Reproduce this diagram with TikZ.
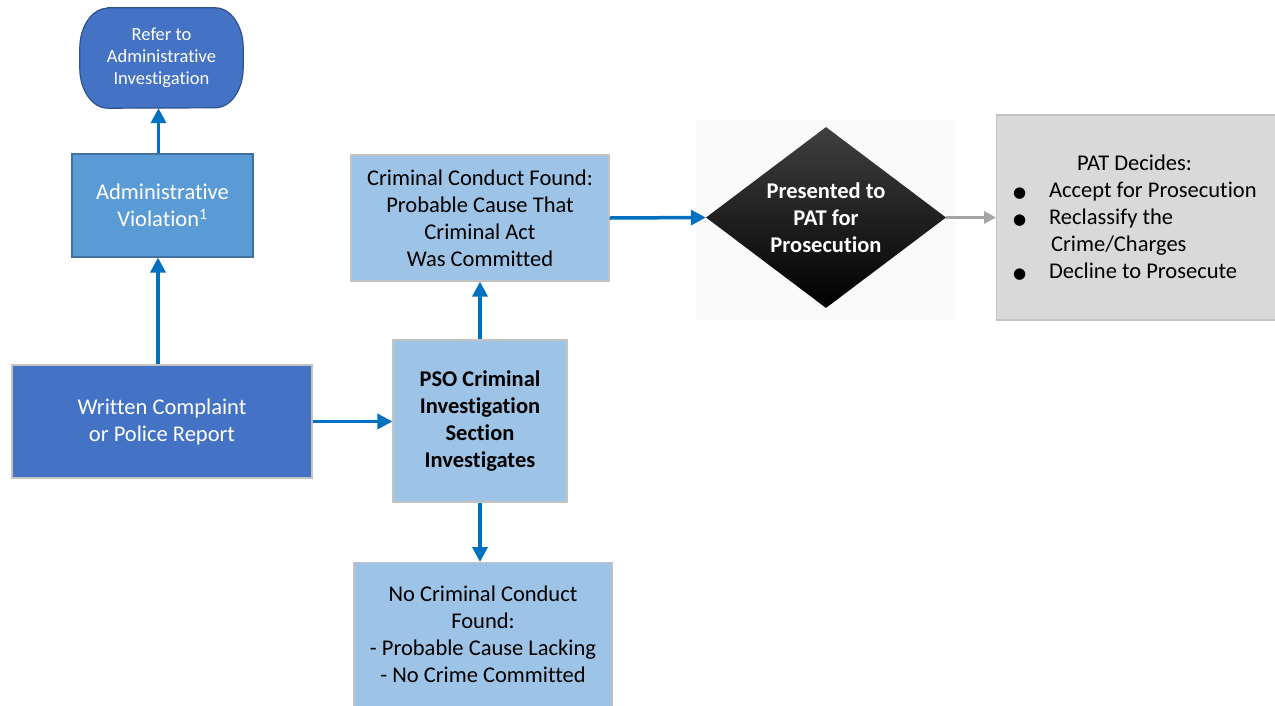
\documentclass[tikz,border=0pt]{standalone}
\usepackage{fontspec}
\setmainfont[Ligatures={NoCommon}]{Carlito}
\newfontfamily\symfont{DejaVu Sans}
\usetikzlibrary{shapes.geometric,arrows.meta,backgrounds}

\definecolor{darkblue}{HTML}{4472C4}
\definecolor{darkblueline}{HTML}{2F528F}
\definecolor{midblue}{HTML}{5B9BD5}
\definecolor{midblueline}{HTML}{41719C}
\definecolor{lightblue}{HTML}{9DC3E6}
\definecolor{boxline}{HTML}{C3C3C3}
\definecolor{panelgray}{HTML}{D9D9D9}
\definecolor{flowblue}{HTML}{0070C0}
\definecolor{flowgray}{HTML}{A5A5A5}

\tikzset{
  box/.style={rectangle, draw=boxline, line width=1.2pt, inner sep=2pt,
    align=center, font=\fontsize{22.5}{27}\selectfont},
  darkbox/.style={box, fill=darkblue, text=white},
  midbox/.style={box, fill=midblue, draw=midblueline, text=white},
  lightbox/.style={box, fill=lightblue, text=black},
  graybox/.style={box, fill=panelgray, draw=boxline},
  flow/.style={draw=flowblue, line width=3.5pt,
    -{Triangle[length=15pt,width=15pt]}},
  grayflow/.style={draw=flowgray, line width=3.5pt,
    -{Triangle[length=12pt,width=12pt]}},
}
\newcommand{\blt}{\makebox[37pt][l]{\hspace*{1pt}{\symfont\fontsize{15}{27}\selectfont ●}}}

\begin{document}
\begin{tikzpicture}[x=1pt,y=-1pt]
\useasboundingbox (0,0) rectangle (1275,705);

% soft backdrop behind the decision diamond
\fill[black!2] (696,120) rectangle (956,320);

% left column
\node[rectangle, inner sep=2pt, align=center, text=white,
  minimum width=163pt, minimum height=100pt,
  font=\fontsize{18.5}{22}\selectfont] (refer) at (161.5,58)
  {Refer to\\Administrative\\Investigation};
\begin{scope}[on background layer]
  % terminator outline with elliptical corners
  \filldraw[fill=darkblue, draw=darkblueline, line width=1.2pt]
    ([xshift=28pt]refer.north west) -- ([xshift=-28pt]refer.north east)
    arc[start angle=90, end angle=0, x radius=28pt, y radius=40pt] -- ++(0,20)
    arc[start angle=0, end angle=-90, x radius=28pt, y radius=40pt]
    -- ([xshift=28pt]refer.south west)
    arc[start angle=-90, end angle=-180, x radius=28pt, y radius=40pt] -- ++(0,-20)
    arc[start angle=180, end angle=90, x radius=28pt, y radius=40pt] -- cycle;
\end{scope}
\node[midbox, minimum width=181pt, minimum height=103pt] (av) at (162.5,205.5)
  {Administrative\\Violation\textsuperscript{1}};
\node[darkbox, minimum width=300pt, minimum height=113pt] (wc) at (162,421.5)
  {Written Complaint\\or Police Report};

% middle column
\node[lightbox, minimum width=174pt, minimum height=162pt,
  font=\fontsize{22.5}{27}\selectfont\bfseries] (pso) at (480,421)
  {PSO Criminal\\Investigation\\Section\\Investigates};
\node[lightbox, minimum width=258pt, minimum height=126pt] (ccf) at (480,218)
  {Criminal Conduct Found:\\Probable Cause That\\Criminal Act\\Was Committed};
\node[lightbox, minimum width=258pt, minimum height=144pt, anchor=north] (nc) at (483,562)
  {No Criminal Conduct\\Found:\\- Probable Cause Lacking\\- No Crime Committed};

% decision
\node[diamond, aspect=1.326, minimum width=240pt, minimum height=181pt, inner sep=0pt,
  top color=black!75, middle color=black!97, bottom color=black, text=white,
  align=center, font=\fontsize{22.5}{27}\selectfont\bfseries] (dia) at (826,217.5)
  {Presented to\\PAT for\\Prosecution};

% outcome panel
\node[graybox, minimum width=281pt, minimum height=205pt, text width=250pt,
  align=flush left, anchor=west] (pat) at (996,217.5)
  {\hspace*{65pt}PAT Decides:\\
   \blt Accept for Prosecution\\
   \blt Reclassify the\\
   \hspace*{39pt}Crime/Charges\\
   \blt Decline to Prosecute};

% connectors
\draw[flow] ([xshift=-4pt]wc.north) -- ([xshift=-4pt]wc.north |- av.south);
\draw[flow] ([xshift=-4pt]av.north) -- ([xshift=-4pt]av.north |- refer.south);
\draw[flow] (wc.east) -- (wc.east -| pso.west);
\draw[flow] (pso.north) -- (pso.north |- ccf.south);
\draw[flow] (pso.south) -- (pso.south |- nc.north);
\draw[flow] (ccf.east) -- (dia.west);
\draw[grayflow] (dia.east) -- (pat.west);
\end{tikzpicture}
\end{document}
